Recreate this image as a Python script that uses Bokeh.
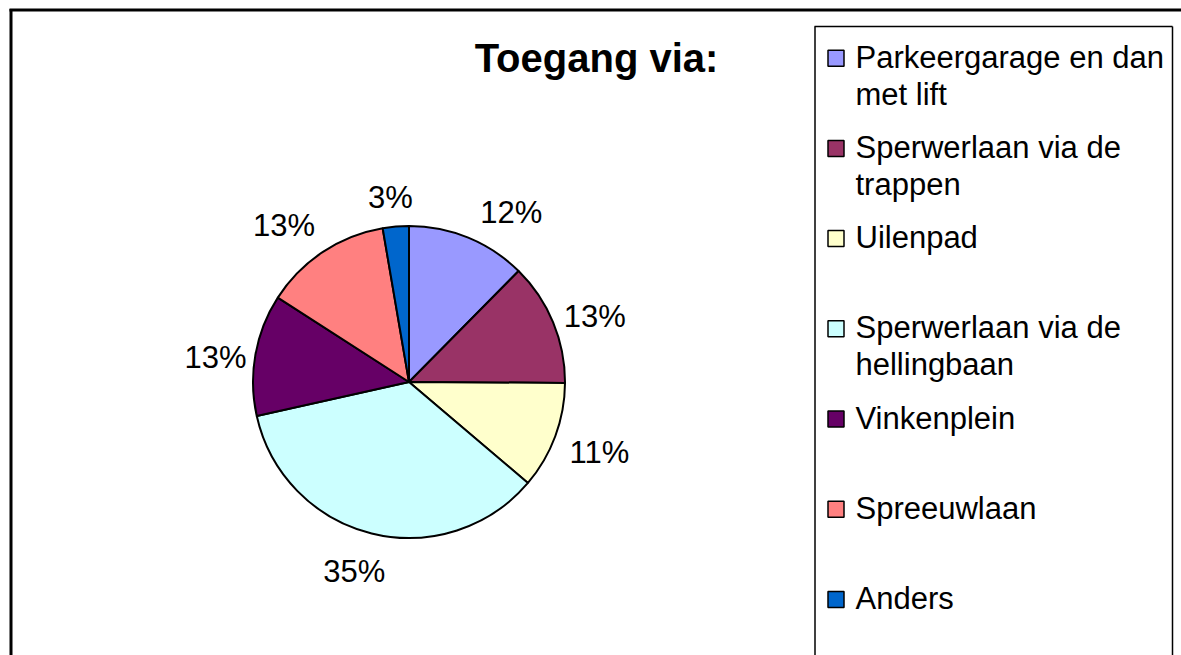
import math
from bokeh.plotting import figure
from bokeh.models import Range1d, ColumnDataSource
from bokeh.embed import file_html
from bokeh.resources import INLINE
from bokeh.core.properties import value

# ---- data ----
title_text = "Toegang via:"
categories = [
    "Parkeergarage en dan\nmet lift",
    "Sperwerlaan via de\ntrappen",
    "Uilenpad",
    "Sperwerlaan via de\nhellingbaan",
    "Vinkenplein",
    "Spreeuwlaan",
    "Anders",
]
shares = [12.4, 12.7, 11.1, 35.3, 12.6, 13.2, 2.7]
colors = ["#9999FF", "#993366", "#FFFFCC", "#CCFFFF", "#660066", "#FF8080", "#0066CC"]

# label layout tweaks mimicking Excel's overlap avoidance
label_nudge_deg = [-8.8, -3.1, 0.0, -2.3, 3.0, 5.2, 0.9]   # counter-clockwise
label_dist_px = [198, 197, 203, 197, 195, 200, 185]         # from pie centre

FONT = value("Liberation Sans")

# ---- figure in page-pixel coordinates (y negated) ----
W, H = 1181, 655
p = figure(width=W, height=H, output_backend="svg", toolbar_location=None,
           x_range=Range1d(0, W), y_range=Range1d(-H, 0),
           x_axis_location=None, y_axis_location=None, min_border=0)
p.grid.visible = False
p.outline_line_color = None
p.background_fill_color = "white"
p.border_fill_color = "white"

# outer chart border (top and left visible)
p.line(x=[9, W], y=[-9.5, -9.5], line_color="black", line_width=3)
p.line(x=[10.5, 10.5], y=[-8.5, -H], line_color="black", line_width=3)

# ---- pie ----
cx, cy, R = 408.5, 381.5, 156
total = sum(shares)
cum = 0.0
starts, ends, mids = [], [], []
for s in shares:
    a0 = math.pi / 2 - 2 * math.pi * cum / total
    cum += s
    a1 = math.pi / 2 - 2 * math.pi * cum / total
    starts.append(a1)
    ends.append(a0)
    mids.append((a0 + a1) / 2)

src = ColumnDataSource(dict(start=starts, end=ends, color=colors,
                            x=[cx] * len(shares), y=[-cy] * len(shares)))
p.wedge(x="x", y="y", radius=R, start_angle="start", end_angle="end",
        fill_color="color", line_color="black", line_width=2, source=src)

lab_angles = [m + math.radians(n) for m, n in zip(mids, label_nudge_deg)]
lab_src = ColumnDataSource(dict(
    x=[cx + d * math.cos(a) for a, d in zip(lab_angles, label_dist_px)],
    y=[-cy + d * math.sin(a) for a, d in zip(lab_angles, label_dist_px)],
    t=[f"{round(s / total * 100)}%" for s in shares],
))
p.text(x="x", y="y", text="t", source=lab_src, text_font=FONT,
       text_font_size="31px", text_align="center", text_baseline="middle",
       text_color="black")

# ---- title ----
p.text(x=[596], y=[-57], text=[title_text], text_font=FONT,
       text_font_size="40px", text_font_style="bold", text_align="center",
       text_baseline="middle", text_color="black")

# ---- legend ----
p.line(x=[814.5, 814.5], y=[-26, -H], line_color="black", line_width=1.5)
p.line(x=[814, 1172], y=[-26, -26], line_color="black", line_width=1.5)
p.line(x=[1172, 1172], y=[-26, -H], line_color="black", line_width=1.5)

y0, dy, line_h = 56.7, 90.2, 37
sq_x, sq_y, tx, ty = [], [], [], []
texts = []
for i, cat in enumerate(categories):
    yc = y0 + dy * i
    sq_x.append(835.5)
    sq_y.append(-(yc + 1))
    for j, ln in enumerate(cat.split("\n")):
        tx.append(855)
        ty.append(-(yc + j * line_h))
        texts.append(ln)

p.rect(x=sq_x, y=sq_y, width=16, height=16, fill_color=colors,
       line_color="black", line_width=1.5)
p.text(x=tx, y=ty, text=texts, text_font=FONT, text_font_size="31px",
       text_align="left", text_baseline="middle", text_color="black")

open("out.html", "w").write(file_html(p, INLINE))
